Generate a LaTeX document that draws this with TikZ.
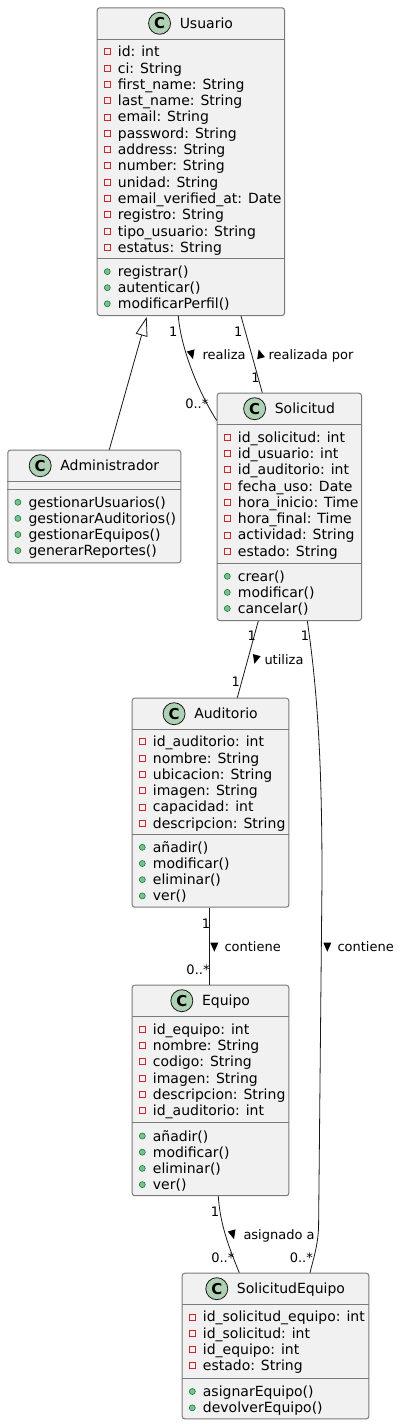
\documentclass[tikz,border=0pt]{standalone}
\usepackage{fontspec}
\setmainfont{DejaVu Sans}
\usetikzlibrary{arrows.meta,calc}
\definecolor{boxfill}{HTML}{F1F1F1}
\definecolor{boxline}{HTML}{7A7A7A}
\definecolor{linkline}{HTML}{181818}
\definecolor{badge}{HTML}{ADD1B2}
\definecolor{privred}{HTML}{C82930}
\definecolor{pubfill}{HTML}{84BE84}
\definecolor{publine}{HTML}{038048}
\tikzset{
 classbox/.style={draw=boxline, fill=boxfill, line width=1pt, rounded corners=2.5pt, inner sep=0pt, anchor=north west},
 sepline/.style={draw=boxline, line width=1pt},
 rowtext/.style={anchor=base west, inner sep=0pt, font=\fontsize{14}{16}\selectfont},
 titletext/.style={anchor=base, inner sep=0pt, font=\fontsize{14}{16}\selectfont},
 cbadge/.style={circle, draw=linkline, fill=badge, line width=0.8pt, minimum size=22pt, inner sep=0pt, font=\fontsize{15}{16}\selectfont\bfseries},
 privmark/.style={rectangle, draw=privred, line width=0.8pt, minimum size=6pt, inner sep=0pt},
 pubmark/.style={circle, draw=publine, fill=pubfill, line width=0.6pt, minimum size=6pt, inner sep=0pt},
 link/.style={draw=linkline, line width=0.8pt},
 lbl/.style={anchor=base, inner sep=0pt, font=\fontsize{13}{15}\selectfont},
 lblw/.style={anchor=base west, inner sep=0pt, font=\fontsize{13}{15}\selectfont},
}
% #1 name, #2 L, #3 T, #4 W, #5 H, #6 S1 offset, #7 S2 offset, #8 title
\newcommand\umlclass[8]{%
  \node[classbox, minimum width=#4pt, minimum height=#5pt] (#1) at (#2,#3) {};
  \draw[sepline] ($(#1.north west)+(0,#6)$) -- ($(#1.north east)+(0,#6)$);
  \draw[sepline] ($(#1.north west)+(0,#7)$) -- ($(#1.north east)+(0,#7)$);
  \node[titletext] (#1-title) at ($(#1.north)+(15.5,21)$) {#8};
  \node[cbadge] (#1-badge) at ($(#1-title.base west)+(-20,-5)$) {C};
}
% #1 box, #2 prefix, #3 first centre offset, #4 marker style, #5 spacing, #6 list
\newcommand\members[6]{%
  \foreach \t [count=\i] in {#6} {
    \node[rowtext] (#2\i) at ($(#1.north west)+(21,{#3+(\i-1)*#5+5})$) {\t};
    \node[#4] (#2m\i) at ($(#1.north west)+(10.6,{#3+(\i-1)*#5})$) {};
  }}
% direction triangle: #1 x, #2 y, #3 dx, #4 dy
\newcommand\dtri[4]{%
  \fill[black] ({#1+5*#3},{#2+5*#4}) -- ({#1-4*#3-4*#4},{#2-4*#4+4*#3}) -- ({#1-4*#3+4*#4},{#2-4*#4-4*#3}) -- cycle;}
\begin{document}
\begin{tikzpicture}[x=1pt,y=-1pt]
\useasboundingbox[fill=white] (0,0) rectangle (400,1424);

% Usuario
\umlclass{usr}{96.7}{7.3}{187.3}{307.7}{32}{251}{Usuario}
\members{usr}{usra}{44.4}{privmark}{16.3}{id: int, ci: String, first\_name: String, last\_name: String, email: String, password: String, address: String, number: String, unidad: String, email\_verified\_at: Date, registro: String, tipo\_usuario: String, estatus: String}
\members{usr}{usrm}{264.3}{pubmark}{16.1}{registrar(), autenticar(), modificarPerfil()}

% Administrador
\umlclass{adm}{7.3}{449.7}{173}{112.6}{32}{39.6}{Administrador}
\members{adm}{admm}{52.6}{pubmark}{16.1}{gestionarUsuarios(), gestionarAuditorios(), gestionarEquipos(), generarReportes()}

% Solicitud
\umlclass{sol}{216.7}{392.7}{144.3}{227.3}{32}{171}{Solicitud}
\members{sol}{sola}{44.4}{privmark}{16.3}{id\_solicitud: int, id\_usuario: int, id\_auditorio: int, fecha\_uso: Date, hora\_inicio: Time, hora\_final: Time, actividad: String, estado: String}
\members{sol}{solm}{183.6}{pubmark}{16.1}{crear(), modificar(), cancelar()}

% Auditorio
\umlclass{aud}{131.7}{697.7}{156.6}{209}{32}{136.8}{Auditorio}
\members{aud}{auda}{44}{privmark}{16.3}{id\_auditorio: int, nombre: String, ubicacion: String, imagen: String, capacidad: int, descripcion: String}
\members{aud}{audm}{149.6}{pubmark}{16.2}{añadir(), modificar(), eliminar(), ver()}

% Equipo
\umlclass{equ}{131.7}{984.7}{156.6}{210.5}{32}{138}{Equipo}
\members{equ}{equa}{44.4}{privmark}{16.3}{id\_equipo: int, nombre: String, codigo: String, imagen: String, descripcion: String, id\_auditorio: int}
\members{equ}{equm}{151.3}{pubmark}{16.2}{añadir(), modificar(), eliminar(), ver()}

% SolicitudEquipo
\umlclass{seq}{181.7}{1272.7}{186.6}{145.6}{32}{106}{SolicitudEquipo}
\members{seq}{seqa}{44.2}{privmark}{16.3}{id\_solicitud\_equipo: int, id\_solicitud: int, id\_equipo: int, estado: String}
\members{seq}{seqm}{118.8}{pubmark}{16.3}{asignarEquipo(), devolverEquipo()}

% inheritance
\draw[link, -{Triangle[open, length=19pt, width=12pt]}] ($(adm.north west)+(102,0)$) -- ($(usr.south west)+(50,1)$);

% realiza
\draw[link] ($(usr.south west)+(81.6,0)$) .. controls (181,350) and (200,395) .. ($(sol.north west)+(0,27.7)$);
\node[lbl] (l-r1) at (173.3,336) {1};
\node[lbl] (l-r2) at (196.8,408.5) {0..*};
\dtri{191.7}{354.3}{0.26}{0.965}
\node[lblw] (l-r3) at (202.3,359.3) {realiza};

% realizada por
\draw[link] ($(usr.south west)+(144.3,0)$) -- ($(sol.north west)+(45.6,0)$);
\node[lbl] (l-p1) at (238.3,336) {1};
\node[lbl] (l-p2) at (255.5,382.5) {1};
\dtri{260}{354.3}{-0.264}{-0.964}
\node[lblw] (l-p3) at (268.3,359.3) {realizada por};

% utiliza
\draw[link] ($(sol.south west)+(41.6,0)$) -- ($(aud.north west)+(105.6,0)$);
\node[lbl] (l-u1) at (251.7,640) {1};
\node[lbl] (l-u2) at (235.7,686.5) {1};
\dtri{255.7}{659}{-0.261}{0.965}
\node[lblw] (l-u3) at (264.3,664) {utiliza};

% contiene (Solicitud - SolicitudEquipo)
\draw[link] ($(sol.south west)+(90.6,0)$) .. controls (319,700) and (322,780) .. (322,880) -- (318.6,1225) .. controls (318.3,1245) and (313,1260) .. ($(seq.north west)+(128.3,0)$);
\node[lbl] (l-c1) at (305,640) {1};
\node[lbl] (l-c2) at (301.3,1262.7) {0..*};
\dtri{327.3}{946.7}{0}{1}
\node[lblw] (l-c3) at (337.3,951.7) {contiene};

% contiene (Auditorio - Equipo)
\draw[link] ($(aud.south west)+(77.6,0)$) -- ($(equ.north west)+(77.6,0)$);
\node[lbl] (l-e1) at (206,928.3) {1};
\node[lbl] (l-e2) at (198,974.3) {0..*};
\dtri{214.3}{946.7}{0}{1}
\node[lblw] (l-e3) at (224.3,951.7) {contiene};

% asignado a
\draw[link] ($(equ.south west)+(86.6,0)$) .. controls (220,1225) and (230,1250) .. ($(seq.north west)+(57.6,0)$);
\node[lbl] (l-a1) at (215,1216.7) {1};
\node[lbl] (l-a2) at (222.8,1262.7) {0..*};
\dtri{232.7}{1234.3}{0.258}{0.966}
\node[lblw] (l-a3) at (243.3,1239) {asignado a};
\end{tikzpicture}
\end{document}
